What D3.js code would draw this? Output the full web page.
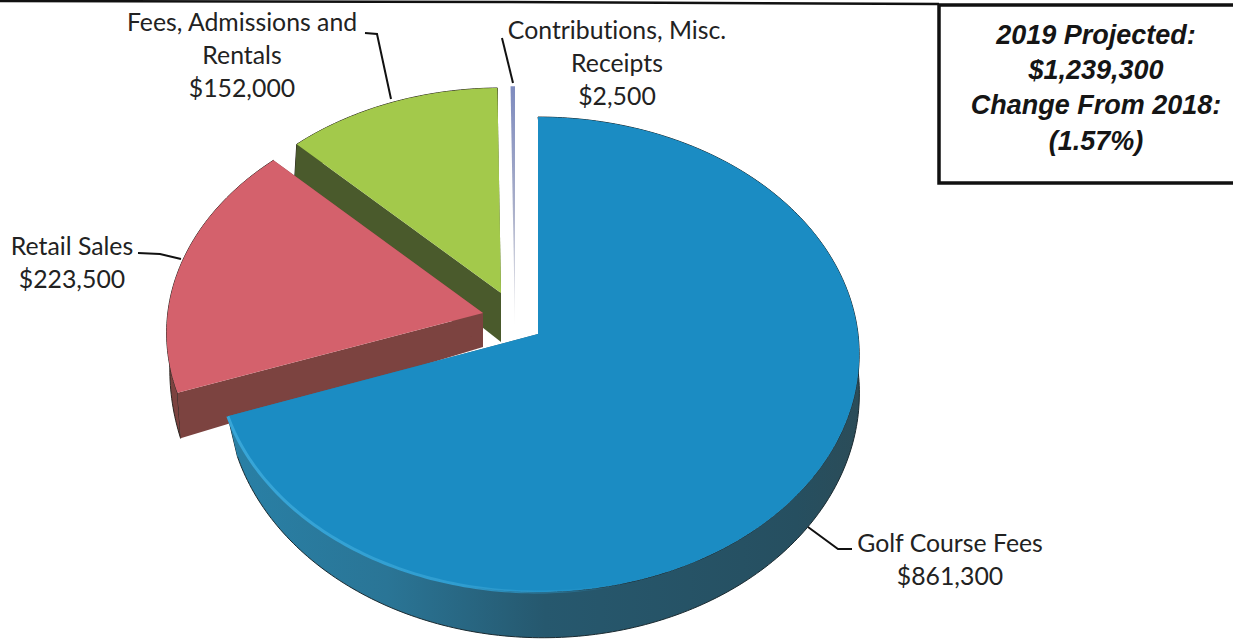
<!DOCTYPE html>
<html>
<head>
<meta charset="utf-8">
<script src="https://cdn.jsdelivr.net/npm/d3@7/dist/d3.min.js"></script>
<style>
  html, body { margin: 0; padding: 0; background: #fff; }
  svg { display: block; }
  .lbl { font-family: Lato, "Open Sans", sans-serif; font-size: 24.8px; fill: #222; text-anchor: middle; font-variant-ligatures: none; }
  .box { font-family: "Liberation Sans", Arial, sans-serif; font-size: 27px; font-weight: bold; font-style: italic; fill: #151515; text-anchor: middle; }
</style>
</head>
<body>
<svg id="chart" width="1233" height="641"></svg>
<script>
// Projected 2019 revenue by source
const categories = ["Golf Course Fees", "Retail Sales", "Fees, Admissions and Rentals", "Contributions, Misc. Receipts"];
const amounts = [861300, 223500, 152000, 2500];
const topColors = ["#1b8cc3", "#d4616c", "#a3c94b", "#8793c2"];
const sideColors = ["url(#blueSide)", "#7c4340", "#4a5a2c", "#c9cde0"];
const summaryLines = ["2019 Projected:", "$1,239,300", "Change From 2018:", "(1.57%)"];

// Each wedge has a top face and a base face, with its own pull-out and foreshortening.
const placement = [
  { top: { ox: 538, oy: 334, sx: 1,    sy: 1 },    base: { ox: 543, oy: 372, sx: 0.985, sy: 1.03 } },
  { top: { ox: 483, oy: 313, sx: 0.985, sy: 0.97 }, base: { ox: 483, oy: 347, sx: 0.975, sy: 1.11 } },
  { top: { ox: 501, oy: 293, sx: 0.96, sy: 0.945 }, base: { ox: 501, oy: 342, sx: 0.97, sy: 1.03 } },
  { top: { ox: 515, oy: 325, sx: 1.2,  sy: 1.1 },  base: { ox: 515, oy: 325, sx: 1.2,  sy: 1.1 } }
];

// Callout text blocks: anchor x and first baseline, leader polyline
const callouts = [
  { lines: ["Golf Course Fees"], x: 950, y: 552, leader: [[808, 527], [838, 549], [852, 549]] },
  { lines: ["Retail Sales"], x: 72, y: 255, leader: [[138, 253], [160, 254], [181, 259]] },
  { lines: ["Fees, Admissions and", "Rentals"], x: 242, y: 31, leader: [[365, 33], [377, 34], [391, 99]] },
  { lines: ["Contributions, Misc.", "Receipts"], x: 617, y: 39, leader: [[502, 38], [513, 83]] }
];

const RX = 320, RY = 235.7, TILT = 0.0864, LINE_H = 33;

const svg = d3.select("#chart");
const defs = svg.append("defs");

function linear(id, x1, y1, x2, y2, stops) {
  const g = defs.append("linearGradient").attr("id", id).attr("gradientUnits", "userSpaceOnUse")
    .attr("x1", x1).attr("y1", y1).attr("x2", x2).attr("y2", y2);
  stops.forEach(([o, c, a]) => g.append("stop").attr("offset", o).attr("stop-color", c).attr("stop-opacity", a === undefined ? 1 : a));
}
linear("blueSide", 230, 0, 860, 0, [[0, "#2980a6"], [0.25, "#2a7596"], [0.5, "#26586e"], [0.9, "#264f60"], [1, "#2b4c58"]]);
linear("rim", 230, 0, 620, 0, [[0, "#38a6d8"], [0.6, "#2f9dd0"], [1, "#2f9dd0", 0]]);
linear("sliver", 0, 87, 0, 325, [[0, "#7f8cbf"], [0.5, "#a8aec9"], [1, "#eeeeee"]]);

svg.append("rect").attr("width", 1233).attr("height", 641).attr("fill", "#fff");

const pie = d3.pie().sort(null).value(d => d).startAngle(0).endAngle(2 * Math.PI);
const slices = pie(amounts);
const line = d3.line();
const fmt = d3.format("$,");

// Tilted-disc projection: angle on the disc to page coordinates
function project(angle, f) {
  const u = Math.sin(angle), v = -Math.cos(angle), w = 1 - TILT * v;
  return [f.ox + RX * f.sx * u / w, f.oy + RY * f.sy * v / w];
}
function arcPoints(s, f) {
  const n = Math.max(2, Math.ceil((s.endAngle - s.startAngle) * 60));
  return d3.range(n + 1).map(i => project(s.startAngle + (s.endAngle - s.startAngle) * i / n, f));
}

// Back wedges first so the large front wedge overlaps them
const order = [3, 2, 1, 0];
order.forEach(i => {
  const s = slices[i], p = placement[i];
  const g = svg.append("g");
  const topArc = arcPoints(s, p.top), baseArc = arcPoints(s, p.base);
  const topApex = [p.top.ox, p.top.oy], baseApex = [p.base.ox, p.base.oy];

  if (i === 3) {
    g.append("path").attr("d", line([topApex, ...topArc]) + "Z").attr("fill", "url(#sliver)");
    return;
  }

  const edge = i === 0 ? "#1a2a30" : "#2a2420";
  // Body: outer band and the two cut faces
  g.append("path").attr("d", line([...topArc, ...baseArc.slice().reverse()]) + "Z")
    .attr("fill", sideColors[i]).attr("stroke", edge).attr("stroke-width", 1);
  g.append("path").attr("d", line([topApex, topArc[0], baseArc[0], baseApex]) + "Z")
    .attr("fill", sideColors[i]);
  g.append("path").attr("d", line([topApex, topArc[topArc.length - 1], baseArc[baseArc.length - 1], baseApex]) + "Z")
    .attr("fill", sideColors[i]);
  // Top face
  g.append("path").attr("d", line([topApex, ...topArc]) + "Z").attr("fill", topColors[i]);
  if (i === 0) {
    // Soft highlight on the bevel of the front-left rim
    const rim = topArc.filter(pt => pt[1] > 400 && pt[0] < 620);
    g.append("path").attr("d", line(rim)).attr("fill", "none").attr("stroke", "url(#rim)").attr("stroke-width", 3);
  }
});

// Callouts with amounts drawn from the same values as the wedges
const leaders = svg.append("g").attr("fill", "none").attr("stroke", "#111").attr("stroke-width", 2);
const labels = svg.append("g");
callouts.forEach((c, i) => {
  leaders.append("path").attr("d", line(c.leader));
  [...c.lines, fmt(amounts[i])].forEach((t, j) => {
    labels.append("text").attr("class", "lbl").attr("x", c.x).attr("y", c.y + j * LINE_H).text(t);
  });
});

// Summary box and the rule along the top edge
svg.append("path").attr("d", line([[0, 1], [500, 2], [939, 4]])).attr("fill", "none").attr("stroke", "#111").attr("stroke-width", 2.5);
svg.append("path").attr("d", line([[1233, 5], [939, 5], [939, 183], [1233, 183]])).attr("fill", "none").attr("stroke", "#111").attr("stroke-width", 3.5);
const boxY = [44, 79, 114, 150];
summaryLines.forEach((t, i) => {
  svg.append("text").attr("class", "box").attr("x", 1096).attr("y", boxY[i]).text(t);
});
</script>
</body>
</html>
